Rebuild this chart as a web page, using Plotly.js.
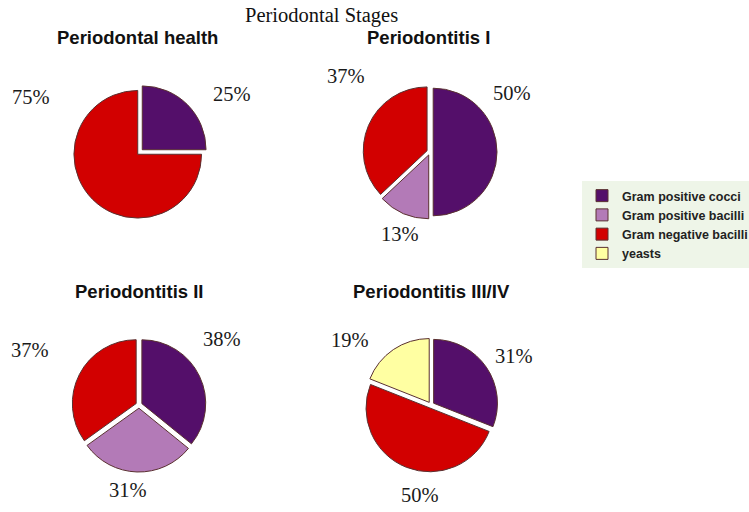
<!DOCTYPE html>
<html>
<head>
<meta charset="utf-8">
<script src="https://cdn.plot.ly/plotly-3.0.1.min.js"></script>
<style>html,body{margin:0;padding:0;background:#fff;}#chart{width:749px;height:512px;}</style>
</head>
<body>
<div id="chart"></div>
<script>
// ---- data ----
const categories = ['Gram positive cocci', 'Gram positive bacilli', 'Gram negative bacilli', 'yeasts'];
const stages = ['Periodontal health', 'Periodontitis I', 'Periodontitis II', 'Periodontitis III/IV'];
const healthValues = [25, 0, 75, 0];
const stage1Values = [50, 13, 37, 0];
const stage2Values = [38, 31, 37, 0];
const stage34Values = [31, 0, 50, 19];
const mainTitle = 'Periodontal Stages';

// ---- styles ----
const W = 749, H = 512;
const colors = ['#540f6a', '#b37ab7', '#d20000', '#ffffa2'];
const px = x => x / W;
const py = y => 1 - y / H;
const side = 134;
// pie centres (pixels), title and label positions (pixels) per stage
const layoutCfg = [
  {vals: healthValues, c: [140, 152], t: [137.5, 37], lab: [[232, 94], null, [31, 97], null]},
  {vals: stage1Values, c: [430, 152], t: [428, 37], lab: [[512, 93], [400, 234], [346, 76], null]},
  {vals: stage2Values, c: [139, 405], t: [139, 291], lab: [[222, 339], [128, 490], [30, 350], null]},
  {vals: stage34Values, c: [431, 405], t: [431, 291], lab: [[514, 356], null, [420, 495], [350, 340]]}
];

const traces = [];
const annotations = [];
layoutCfg.forEach((cfg, i) => {
  const labels = [], values = [], cols = [];
  cfg.vals.forEach((v, k) => {
    if (v > 0) { labels.push(categories[k]); values.push(v); cols.push(colors[k]); }
    if (v > 0 && cfg.lab[k]) {
      annotations.push({
        x: px(cfg.lab[k][0]), y: py(cfg.lab[k][1]), xref: 'paper', yref: 'paper',
        text: v + '%', showarrow: false, xanchor: 'center', yanchor: 'middle',
        font: {family: 'Liberation Serif, Times New Roman, serif', size: 20.5, color: '#1a1a1a'}
      });
    }
  });
  annotations.push({
    x: px(cfg.t[0]), y: py(cfg.t[1]), xref: 'paper', yref: 'paper',
    text: '<b>' + stages[i] + '</b>', showarrow: false, xanchor: 'center', yanchor: 'middle',
    font: {family: 'Liberation Sans, Arial, sans-serif', size: 18.5, color: '#111'}
  });
  traces.push({
    type: 'pie', name: stages[i], labels: labels, values: values, sort: false,
    direction: 'clockwise', rotation: 0, pull: 0.05, textinfo: 'none', hoverinfo: 'label+percent',
    marker: {colors: cols, line: {color: '#5a3030', width: 1}},
    domain: {x: [px(cfg.c[0] - side / 2), px(cfg.c[0] + side / 2)], y: [py(cfg.c[1] + side / 2), py(cfg.c[1] - side / 2)]},
    automargin: false
  });
});
annotations.push({
  x: px(321), y: py(15), xref: 'paper', yref: 'paper', text: mainTitle, showarrow: false,
  xanchor: 'center', yanchor: 'middle',
  font: {family: 'Liberation Serif, Times New Roman, serif', size: 20.5, color: '#111'}
});

// reorder traces so the legend lists categories in order
const order = [2, 3, 1, 0];
const data = order.map(k => traces[k]);

const layout = {
  width: W, height: H,
  margin: {l: 0, r: 0, t: 0, b: 0, autoexpand: false},
  paper_bgcolor: '#ffffff',
  showlegend: true,
  legend: {
    x: px(582), y: py(181), xanchor: 'left', yanchor: 'top',
    bgcolor: '#eef5e8', borderwidth: 0,
    font: {family: 'Liberation Sans, Arial, sans-serif', size: 12.5, weight: 600, color: '#222'},
    traceorder: 'normal'
  },
  annotations: annotations
};
Plotly.newPlot('chart', data, layout, {displayModeBar: false, staticPlot: true});
</script>
</body>
</html>
